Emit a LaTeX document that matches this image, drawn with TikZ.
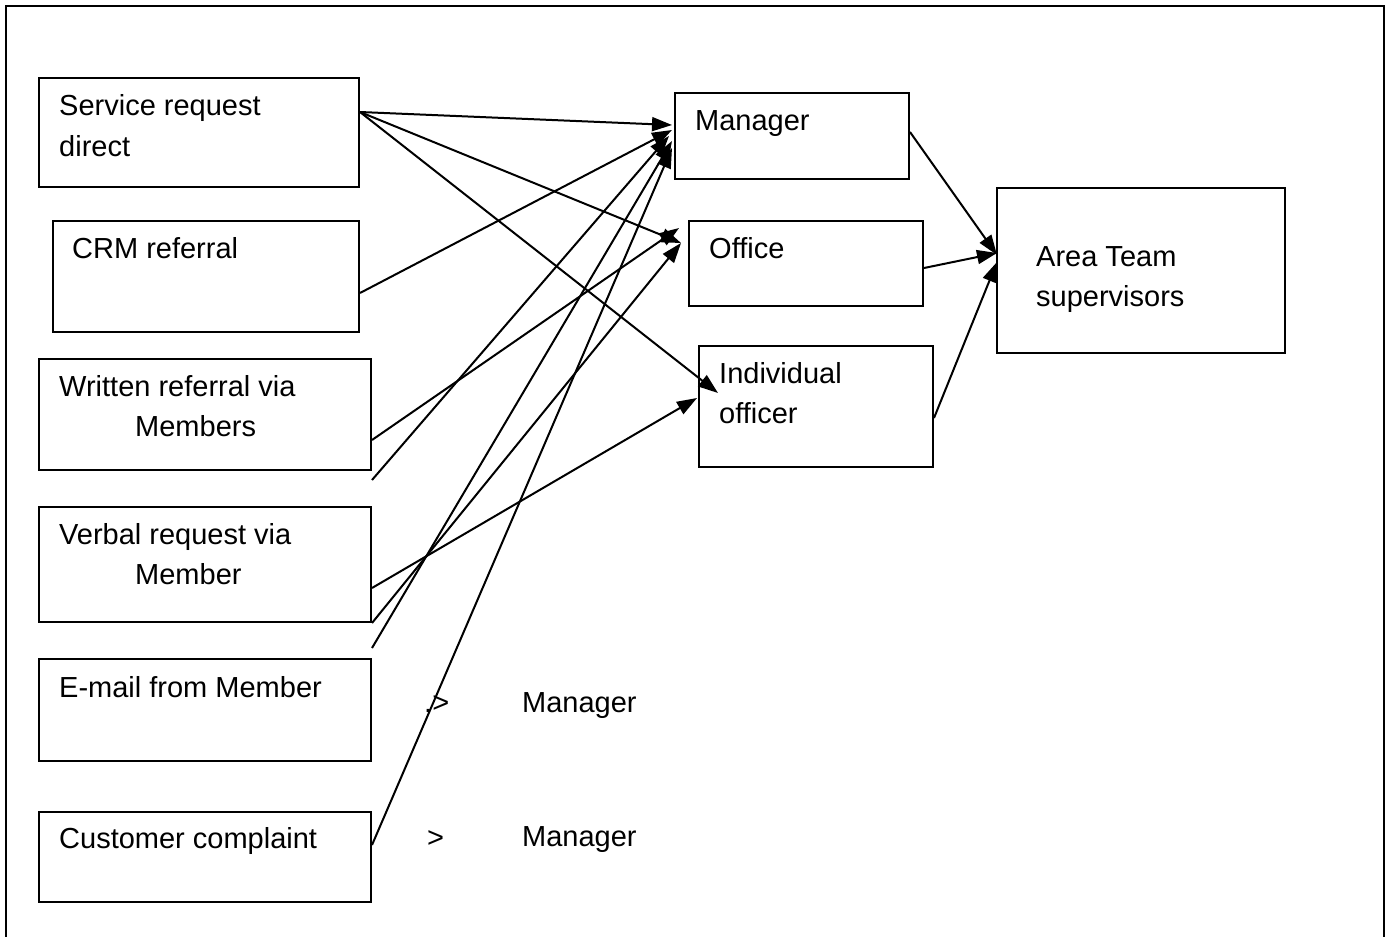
\documentclass[tikz,border=0pt]{standalone}
\usepackage{fontspec}
\setmainfont{Liberation Sans}
\usetikzlibrary{arrows.meta,calc}
\begin{document}
\begin{tikzpicture}[x=1pt,y=-1pt,
  box/.style={draw,line width=2pt,rectangle,anchor=north west,inner sep=0pt},
  txt/.style={anchor=base west,inner sep=0pt,font=\fontsize{29}{40}\selectfont},
  conn/.style={line width=2pt},
  arr/.style={line width=2pt,-{Triangle[length=20pt,width=14pt]}}]
\useasboundingbox (0,0) rectangle (1390,937);
\draw[line width=2pt] (6,937) -- (6,6) -- (1384,6) -- (1384,937);
% left boxes
\node[box,minimum width=320pt,minimum height=109pt] (sr) at (38,77) {};
\node[box,minimum width=306pt,minimum height=111pt] (crm) at (52,220) {};
\node[box,minimum width=332pt,minimum height=111pt] (wr) at (38,358) {};
\node[box,minimum width=332pt,minimum height=115pt] (vr) at (38,506) {};
\node[box,minimum width=332pt,minimum height=102pt] (em) at (38,658) {};
\node[box,minimum width=332pt,minimum height=90pt] (cc) at (38,811) {};
% right boxes
\node[box,minimum width=234pt,minimum height=86pt] (mgr) at (674,92) {};
\node[box,minimum width=234pt,minimum height=85pt] (off) at (688,220) {};
\node[box,minimum width=234pt,minimum height=121pt] (ind) at (698,345) {};
\node[box,minimum width=288pt,minimum height=165pt] (area) at (996,187) {};
% texts
\node[txt] (t1) at (59,115) {Service request};
\node[txt] (t1b) at (59,156) {direct};
\node[txt] (t2) at (72,258) {CRM referral};
\node[txt] (t3) at (59,396) {Written referral via};
\node[txt] (t3b) at (135,436) {Members};
\node[txt] (t4) at (59,544) {Verbal request via};
\node[txt] (t4b) at (135,584) {Member};
\node[txt] (t5) at (59,697) {E-mail from Member};
\node[txt] (t6) at (59,848) {Customer complaint};
\node[txt] (t7) at (424,712) {.>};
\node[txt] (t7b) at (522,712) {Manager};
\node[txt] (t8) at (427,847) {>};
\node[txt] (t8b) at (522,846) {Manager};
\node[txt] (tm) at (695,130) {Manager};
\node[txt] (to) at (709,258) {Office};
\node[txt] (ti) at (719,383) {Individual};
\node[txt] (tib) at (719,423) {officer};
\node[txt] (ta) at (1036,266) {Area Team};
\node[txt] (tab) at (1036,306) {supervisors};
% connector coordinates
\coordinate (sS) at ($(sr.north east)+(0,35)$);
\coordinate (cS) at ($(crm.north east)+(0,73)$);
\coordinate (wS) at ($(wr.north east)+(0,82)$);
\coordinate (wB) at ($(wr.south east)+(0,9)$);
\coordinate (vS) at ($(vr.north east)+(0,82)$);
\coordinate (vB) at (vr.south east);
\coordinate (eT) at ($(em.north east)+(0,-10)$);
\coordinate (cC) at ($(cc.north east)+(0,34)$);
\coordinate (m1) at (672,125);
\coordinate (m2) at (672,130);
\coordinate (m3) at (669,136);
\coordinate (m4) at (672,141);
\coordinate (m5) at (672,148);
\coordinate (o1) at (679,228);
\coordinate (o2) at (681,243);
\coordinate (i1) at (718,393);
\coordinate (i2) at (697,398);
\coordinate (mR) at ($(mgr.north east)+(0,40)$);
\coordinate (oR) at ($(off.north east)+(0,48)$);
\coordinate (iR) at ($(ind.north east)+(0,73)$);
\coordinate (a1) at (997,255);
\coordinate (a2) at (997,253);
\coordinate (a3) at (997,262);
\draw[arr] (sS) -- (m1);
\draw[arr] (sS) -- (o2);
\draw[arr] (sS) -- (i1);
\draw[arr] (cS) -- (m2);
\draw[arr] (wS) -- (o1);
\draw[arr] (wB) -- (m3);
\draw[arr] (vS) -- (i2);
\draw[arr] (vB) -- (o2);
\draw[arr] (eT) -- (m4);
\draw[arr] (cC) -- (m5);
\draw[arr] (mR) -- (a1);
\draw[arr] (oR) -- (a2);
\draw[arr] (iR) -- (a3);
\end{tikzpicture}
\end{document}
